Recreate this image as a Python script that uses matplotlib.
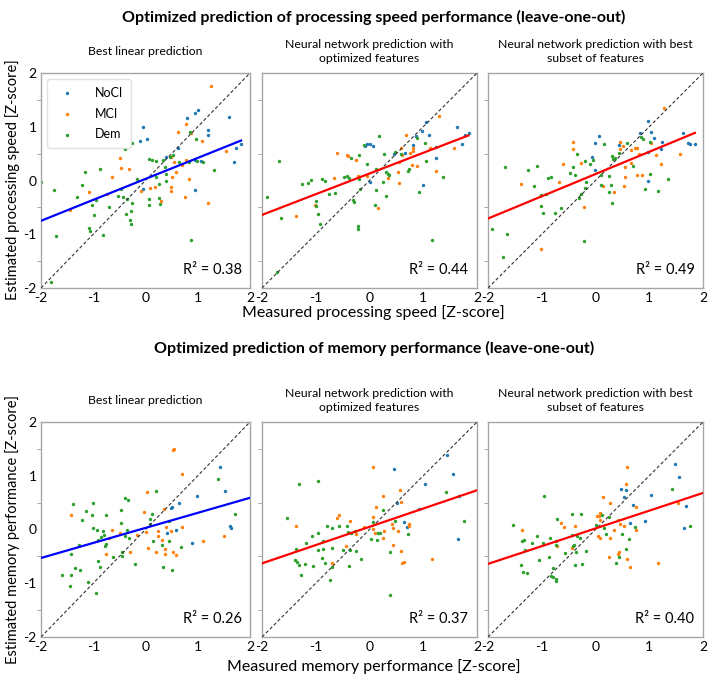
import matplotlib
matplotlib.use("Agg")
import matplotlib.pyplot as plt
import numpy as np

plt.rcParams['font.family'] = ['Lato', 'DejaVu Sans']
plt.rcParams['axes.unicode_minus'] = False

groups = ['NoCI', 'MCI', 'Dem']
group_colors = ['#1f77b4', '#ff7f0e', '#2ca02c']

# --- processing speed, best linear ---
sp_lin_noci_x = [-0.05, 0.03, -0.11, 0.79, 0.94, 1.01, 1.60, 1.19, 1.20, 0.62, 0.40, 1.83, 1.74, 1.69, 1.06, 0.94, 0.95, -0.05]
sp_lin_noci_y = [1.00, 0.77, 0.73, 1.16, 1.25, 1.31, 1.19, 0.94, 0.84, 0.61, 0.43, 0.68, 0.61, 0.34, 0.37, 0.38, -0.17, -0.16]
sp_lin_mci_x = [1.25, 0.78, 0.62, 0.87, 1.08, 1.55, -0.48, -0.46, -0.32, -0.65, 0.48, 0.55, 0.70, 0.78, 0.58, 0.51, 0.83, 0.09,
                -0.09, 0.19, 0.48, 0.48, 0.30, 0.75, 1.19, -1.08, -0.73, -1.44]
sp_lin_mci_y = [1.75, 1.06, 0.91, 0.89, 0.74, 0.55, 0.42, 0.23, 0.22, 0.07, 0.43, 0.35, 0.29, 0.38, 0.15, 0.07, 0.02, -0.14,
                -0.19, -0.13, -0.13, -0.20, -0.39, -0.31, -0.42, -0.22, -0.25, -0.55]
sp_lin_dem_x = [-2.0, -1.75, -1.71, -1.80, -1.15, -1.21, -1.31, -0.88, -1.03, -0.94, -0.99, -1.09, -1.06, -0.81, -0.70, -0.53,
                -0.43, -0.47, -0.39, -0.26, -0.37, -0.35, -0.28, -0.29, -0.27, -0.25, -0.16, 0.06, 0.12, 0.20, 0.33, 0.38,
                0.26, 0.20, 0.06, 0.06, 0.26, 0.27, 0.39, 0.40, 0.47, 0.52, 0.85, 0.96, 0.99, 1.11, 1.31, 0.88, 0.65, 0.83]
sp_lin_dem_y = [-0.03, -0.17, -1.04, -1.88, 0.16, -0.09, -0.30, 0.22, -0.45, -0.36, -0.65, -0.88, -0.94, -1.02, -0.50, -0.29,
                -0.30, -0.15, 0.58, 0.70, -0.63, -0.35, -0.57, -0.73, -0.80, -0.42, 0.02, 0.40, 0.38, 0.37, 0.38, 0.25,
                -0.06, 0.06, -0.35, -0.46, -0.32, -0.44, 0.12, -0.01, 0.44, 0.47, 0.90, 0.78, 0.36, 0.35, 0.20, -1.10, 0.34, 0.34]

# --- processing speed, NN optimized features ---
sp_opt_noci_x = [1.05, 0.98, 0.86, 1.10, 1.63, 1.86, 1.77, 1.73, 1.23, 1.24, 0.99, -0.09, -0.05, 0.01, 0.07, 0.45, 0.66, 0.80, 0.01]
sp_opt_noci_y = [1.08, 0.92, 0.83, 0.84, 1.00, 0.89, 0.84, 0.67, 0.63, 0.42, -0.08, 0.65, 0.67, 0.67, 0.65, 0.50, 0.51, 0.66, -0.03]
sp_opt_mci_x = [1.29, 0.67, 0.58, 0.80, 0.81, 0.75, 1.12, 1.58, -0.60, -0.41, -0.40, -0.26, 0.61, 0.54, 0.79, 0.88, 0.53,
                0.35, 0.54, -0.22, -0.05, -0.66, 1.23, 0.15, -1.01, -1.37]
sp_opt_mci_y = [1.20, 0.85, 0.61, 0.61, 0.55, 0.51, 0.61, 0.60, 0.52, 0.48, 0.45, 0.39, 0.47, 0.34, 0.28, 0.27, 0.16,
                0.04, -0.04, 0.09, 0.09, 0.04, 0.17, -0.52, -0.46, -0.66]
sp_opt_dem_x = [0.17, 0.27, -0.11, -1.68, -1.91, -1.64, -1.72, -1.25, -1.15, -1.09, -0.88, -0.83, -0.75, -0.65, -1.00, -0.99,
                -0.96, -0.93, -0.48, -0.42, -0.38, -0.34, -0.20, -0.19, -0.17, -0.30, -0.29, -0.22, -0.22, -0.04, 0.12, 0.12,
                0.11, 0.25, 0.31, 0.34, 0.37, 0.30, 0.48, 0.58, 0.72, 0.74, 0.89, 1.03, 1.06, 0.93, 1.36, 1.17]
sp_opt_dem_y = [0.82, 0.50, 0.66, 0.36, -0.30, -0.69, -1.70, -0.07, -0.04, 0.01, 0.02, -0.01, -0.25, -0.24, -0.39, -0.47,
                -0.63, -0.81, 0.07, 0.09, 0.05, 0.42, 0.48, 0.02, -0.15, -0.37, -0.40, -0.84, -0.91, 0.30, 0.22, -0.17,
                -0.46, -0.02, 0.16, 0.13, 0.11, -0.28, 0.53, 0.50, 0.18, 0.22, 0.79, 0.70, 0.37, -0.22, 0.07, -1.10]

# --- processing speed, NN best subset ---
sp_sub_noci_x = [0.97, 0.07, -0.01, 0.43, 0.83, 1.04, 1.09, 1.23, 1.22, 1.63, 1.73, 1.76, 1.85, 0.97, -0.07, -0.01, 0.98]
sp_sub_noci_y = [1.11, 0.83, 0.70, 0.66, 0.89, 0.91, 0.80, 0.72, 0.58, 0.88, 0.70, 0.67, 0.67, 0.53, 0.43, 0.19, 0.00]
sp_sub_mci_x = [1.28, 0.46, 0.45, 0.52, 0.73, 0.78, 0.66, 0.81, 1.03, 1.12, 1.58, -0.41, -0.41, -0.60, -0.27, 0.55, 0.66,
                1.22, 0.78, 0.86, 0.55, 0.53, 0.14, 0.34, -0.68, -1.38, -0.22, -1.02]
sp_sub_mci_y = [1.34, 0.72, 0.59, 0.65, 0.61, 0.61, 0.57, 0.50, 0.69, 0.48, 0.50, 0.71, 0.59, 0.30, 0.32, 0.25, 0.32,
                0.30, 0.11, 0.10, 0.06, -0.10, -0.11, -0.21, -0.03, -0.06, -0.50, -1.27]
sp_sub_dem_x = [-1.68, -1.25, -1.09, -1.15, -0.89, -0.83, -1.01, -0.93, -1.02, -0.97, -0.76, -0.65, -1.93, -1.65, -1.73, -0.34,
                -0.20, -0.11, -0.05, -0.42, -0.48, -0.38, -0.18, -0.19, -0.27, -0.30, -0.22, 0.16, 0.31, 0.32, 0.36, 0.44,
                0.58, 0.11, 0.10, 0.26, 0.25, 0.29, 0.30, 0.70, 0.85, 0.89, 1.01, 1.02, 0.93, 1.17, 1.35]
sp_sub_dem_y = [0.25, 0.19, 0.27, -0.10, 0.04, 0.06, -0.27, -0.25, -0.48, -0.60, -0.60, -0.52, -0.91, -0.99, -1.42, 0.50,
                0.37, 0.31, 0.38, 0.25, 0.14, 0.11, -0.02, -0.14, -0.26, -0.33, -1.13, 0.67, 0.45, 0.40, 0.42, 0.52,
                0.70, 0.11, -0.09, 0.08, -0.22, -0.09, -0.42, 0.27, 0.81, 0.78, 0.72, 0.13, -0.15, -0.20, 0.03]

# --- memory, best linear ---
me_lin_noci_x = [1.42, 1.52, 0.99, 0.65, 0.50, 0.48, 0.59, 0.41, 0.89, 1.61, 1.63]
me_lin_noci_y = [1.17, 0.72, 0.63, 0.49, 0.42, 0.40, 0.00, -0.07, -0.26, 0.06, 0.02]
me_lin_mci_x = [0.52, 0.54, 0.69, 0.02, -0.03, 0.36, -1.43, -0.64, -0.48, -0.69, -0.16, 0.01, 0.23, 0.40, 0.48, 0.69, 0.23,
                0.32, 1.11, 1.50, 0.04, 0.20, 0.38, 0.37, 0.53, 0.59, -0.30, -0.76]
me_lin_mci_y = [1.47, 1.49, 1.04, 0.69, 0.32, 0.39, 0.27, 0.00, -0.07, -0.15, -0.11, -0.04, -0.02, 0.04, -0.02, 0.05, -0.12,
                -0.19, -0.21, -0.12, -0.34, -0.42, -0.37, -0.45, -0.42, -0.47, -0.41, -0.45]
me_lin_dem_x = [0.21, -0.40, -0.34, -0.46, -1.01, -1.38, -1.13, -1.03, -0.76, -1.22, -0.47, 0.13, 0.09, 0.08, 0.45, 1.71,
                1.38, -1.01, -0.92, -0.81, -0.79, -0.86, -0.91, -0.35, -0.40, -0.31, -0.76, -0.78, -1.28, -1.43, 0.15, 0.31,
                0.45, 0.67, -0.45, -0.45, -0.62, -0.91, -0.88, -1.34, -1.26, -1.60, -1.42, -1.10, -1.44, -0.94, -0.21, 0.33, 0.50]
me_lin_dem_y = [0.71, 0.59, 0.54, 0.37, 0.50, 0.48, 0.35, 0.27, 0.27, 0.17, 0.12, 0.29, 0.19, 0.10, 0.16, 0.28,
                0.94, 0.02, 0.00, -0.02, -0.10, -0.14, -0.19, 0.00, -0.12, -0.16, -0.27, -0.31, -0.29, -0.45, -0.22, -0.28,
                -0.22, -0.33, -0.42, -0.49, -0.51, -0.58, -0.69, -0.71, -0.75, -0.84, -0.85, -0.98, -1.06, -1.19, -0.65, -0.70, -0.76]

# --- memory, NN optimized features ---
me_opt_noci_x = [1.45, 0.46, 1.55, 1.04, 1.67, 0.52, 0.93, 0.65, 0.70, 1.65]
me_opt_noci_y = [1.39, 1.12, 1.03, 0.85, 0.63, 0.49, 0.38, 0.14, 0.04, -0.17]
me_opt_mci_x = [0.07, 0.56, 0.26, 0.58, 0.13, -0.61, -0.57, -0.37, -1.36, 0.06, -0.11, 0.07, 0.42, 0.44, 0.73, 0.73, 0.53,
                0.10, 0.27, 0.25, -0.25, -0.43, 0.43, 0.58, 0.61, 1.16, -0.69, 0.65]
me_opt_mci_y = [1.16, 0.73, 0.62, 0.52, 0.42, 0.22, 0.27, 0.16, 0.06, 0.23, 0.04, 0.01, 0.11, 0.03, 0.10, 0.06, -0.02,
                -0.06, -0.02, -0.16, -0.09, -0.30, -0.28, -0.40, -0.62, -0.55, -0.62, -0.61]
me_opt_dem_x = [-1.32, -0.95, -1.53, -0.80, -0.70, -0.56, -0.42, -0.40, -0.27, -0.34, -0.95, -1.07, -1.19, -0.96, -1.36,
                -0.86, -0.86, -0.70, -0.88, -1.39, -1.34, -1.31, -1.20, -1.05, -1.28, -0.82, -0.73, -0.70, -0.50, -0.37,
                -0.25, -0.39, -0.16, 0.02, 0.14, 0.15, 0.20, 0.06, 0.26, 0.48, 0.71, 0.39, 0.38, 1.42, 1.75]
me_opt_dem_y = [0.85, 0.90, 0.22, 0.06, 0.02, 0.06, 0.06, -0.04, -0.02, -0.07, -0.07, -0.13, -0.25, -0.39, -0.36,
                -0.22, -0.36, -0.35, -0.53, -0.56, -0.61, -0.66, -0.64, -0.68, -0.84, -0.63, -0.94, -0.70, -0.39, -0.39,
                -0.40, -0.67, -0.55, -0.18, -0.20, -0.06, -0.07, 0.14, 0.37, 0.16, -0.09, -0.42, -1.21, 0.69, 0.16]

# --- memory, NN best subset ---
me_sub_noci_x = [1.47, 1.55, 1.04, 0.47, 0.56, 0.53, 0.70, 1.68, 0.93, 0.64, 1.64]
me_sub_noci_y = [1.21, 0.97, 0.65, 0.76, 0.74, 0.60, 0.45, 0.43, 0.15, 0.13, 0.03]
me_sub_mci_x = [0.58, 0.56, 0.14, 0.27, 0.75, 1.53, 0.08, 0.03, 0.07, 0.08, 0.42, 0.45, 0.53, 0.34, 0.76, 0.04, 0.09,
                0.27, -0.64, -0.58, -0.38, -1.36, -0.71, -0.43, 0.25, 0.43, 0.42, 0.59, 0.65, 1.16]
me_sub_mci_y = [1.17, 0.84, 0.61, 0.49, 0.42, 0.49, 0.31, 0.26, 0.26, 0.18, 0.17, 0.10, 0.06, -0.01, -0.01, -0.12, -0.16,
                -0.16, 0.13, 0.05, 0.06, -0.01, -0.31, -0.35, -0.52, -0.41, -0.46, -0.54, -0.70, -0.62]
me_sub_dem_x = [-0.95, -1.53, -1.08, -1.18, -1.36, -1.33, -0.97, -0.85, -0.74, -0.74, -0.71, -0.44, -0.27, -0.43, -0.34,
                -0.28, -0.40, -0.41, -0.56, -0.37, -0.17, -1.31, -1.05, -0.87, -1.39, -1.34, -1.27, -0.80, -0.82, -0.80,
                -0.73, -0.74, -0.39, -0.25, 0.01, 0.15, 0.19, 0.13, 0.25, 0.50, 0.73, 0.63, 0.56, 0.43, 0.38, 1.43, 1.75]
me_sub_dem_y = [0.62, 0.08, -0.13, -0.25, -0.21, -0.20, -0.26, -0.16, -0.22, -0.28, 0.20, 0.28, 0.28, -0.10, -0.13,
                -0.15, -0.29, -0.31, -0.43, -0.41, -0.40, -0.39, -0.57, -0.52, -0.66, -0.79, -0.81, -0.71, -0.87, -0.88,
                -0.96, -0.93, -0.66, -0.64, 0.08, 0.03, -0.09, 0.27, 0.24, -0.08, 0.05, -0.18, -0.36, -0.52, -0.63, 0.75, 0.07]

# regression lines: slope, intercept, x end
fit_slope = [0.39, 0.385, 0.414, 0.28, 0.34, 0.33]
fit_intercept = [0.03, 0.13, 0.12, 0.03, 0.05, 0.02]
fit_x_end = [1.83, 1.84, 1.85, 2.0, 2.0, 2.0]
fit_colors = ['#0000ff', '#ff0000', '#ff0000', '#0000ff', '#ff0000', '#ff0000']
r2_values = ['0.38', '0.44', '0.49', '0.26', '0.37', '0.40']

subtitles = ['Best linear prediction',
             'Neural network prediction with\noptimized features',
             'Neural network prediction with best\nsubset of features']

panel_data = [
    [(sp_lin_noci_x, sp_lin_noci_y), (sp_lin_mci_x, sp_lin_mci_y), (sp_lin_dem_x, sp_lin_dem_y)],
    [(sp_opt_noci_x, sp_opt_noci_y), (sp_opt_mci_x, sp_opt_mci_y), (sp_opt_dem_x, sp_opt_dem_y)],
    [(sp_sub_noci_x, sp_sub_noci_y), (sp_sub_mci_x, sp_sub_mci_y), (sp_sub_dem_x, sp_sub_dem_y)],
    [(me_lin_noci_x, me_lin_noci_y), (me_lin_mci_x, me_lin_mci_y), (me_lin_dem_x, me_lin_dem_y)],
    [(me_opt_noci_x, me_opt_noci_y), (me_opt_mci_x, me_opt_mci_y), (me_opt_dem_x, me_opt_dem_y)],
    [(me_sub_noci_x, me_sub_noci_y), (me_sub_mci_x, me_sub_mci_y), (me_sub_dem_x, me_sub_dem_y)],
]

W, H = 708, 683
fig = plt.figure(figsize=(W / 100, H / 100), dpi=100)

lefts = [41, 262, 488]
widths = [209, 215, 215]
tops = [73, 422]
ax_h = 215

axes = []
for r in range(2):
    for c in range(3):
        ax = fig.add_axes([lefts[c] / W, 1 - (tops[r] + ax_h) / H, widths[c] / W, ax_h / H])
        axes.append(ax)

for i, ax in enumerate(axes):
    for g in range(3):
        gx, gy = panel_data[i][g]
        ax.scatter(gx, gy, s=6, color=group_colors[g], label=groups[g], linewidths=0, zorder=2)
    ax.plot([-2, 2], [-2, 2], ls=(0, (3, 2)), color='#333333', lw=0.8, zorder=3)
    xs = np.array([-2.0, fit_x_end[i]])
    ax.plot(xs, fit_slope[i] * xs + fit_intercept[i], color=fit_colors[i], lw=1.6, zorder=4)
    ax.set_xlim(-2, 2)
    ax.set_ylim(-2, 2)
    ax.set_xticks([-2, -1, 0, 1, 2])
    ax.set_yticks([-2, -1, 0, 1, 2])
    ax.set_yticks([-1.5, -0.5, 0.5, 1.5], minor=True)
    ax.tick_params(axis='both', length=0, labelsize=10, pad=3)
    ax.tick_params(axis='y', which='minor', length=3, color='#999999', direction='out')
    if i % 3 != 0:
        ax.tick_params(axis='y', labelleft=False)
    for sp in ax.spines.values():
        sp.set_color('#a6a6a6')
        sp.set_linewidth(1.0)
    ax.text(0.96, 0.05, 'R\u00b2 = ' + r2_values[i], transform=ax.transAxes, ha='right', va='bottom', fontsize=10.5)
    ax.text(0.5, 1.1, subtitles[i % 3], transform=ax.transAxes, ha='center', va='center', fontsize=8.8,
            linespacing=1.35)

leg = axes[0].legend(loc='upper left', fontsize=9, frameon=True, markerscale=1.0, handletextpad=1.2,
                     labelspacing=0.7, borderpad=0.6, bbox_to_anchor=(0.0, 1.0))
leg.get_frame().set_edgecolor('#d9d9d9')

fig.text(0.528, 1 - 17 / H, 'Optimized prediction of processing speed performance (leave-one-out)',
         ha='center', va='center', fontsize=11.5, fontweight='bold')
fig.text(0.528, 1 - 348 / H, 'Optimized prediction of memory performance (leave-one-out)',
         ha='center', va='center', fontsize=11.5, fontweight='bold')
fig.text(0.528, 1 - 313 / H, 'Measured processing speed [Z-score]', ha='center', va='center', fontsize=11.5)
fig.text(0.528, 1 - 667 / H, 'Measured memory performance [Z-score]', ha='center', va='center', fontsize=11.5)
fig.text(13 / W, 1 - 180 / H, 'Estimated processing speed [Z-score]', ha='center', va='center',
         rotation=90, fontsize=10.5)
fig.text(13 / W, 1 - 530 / H, 'Estimated memory performance [Z-score]', ha='center', va='center',
         rotation=90, fontsize=10.5)

fig.savefig('out.png', dpi=100)
